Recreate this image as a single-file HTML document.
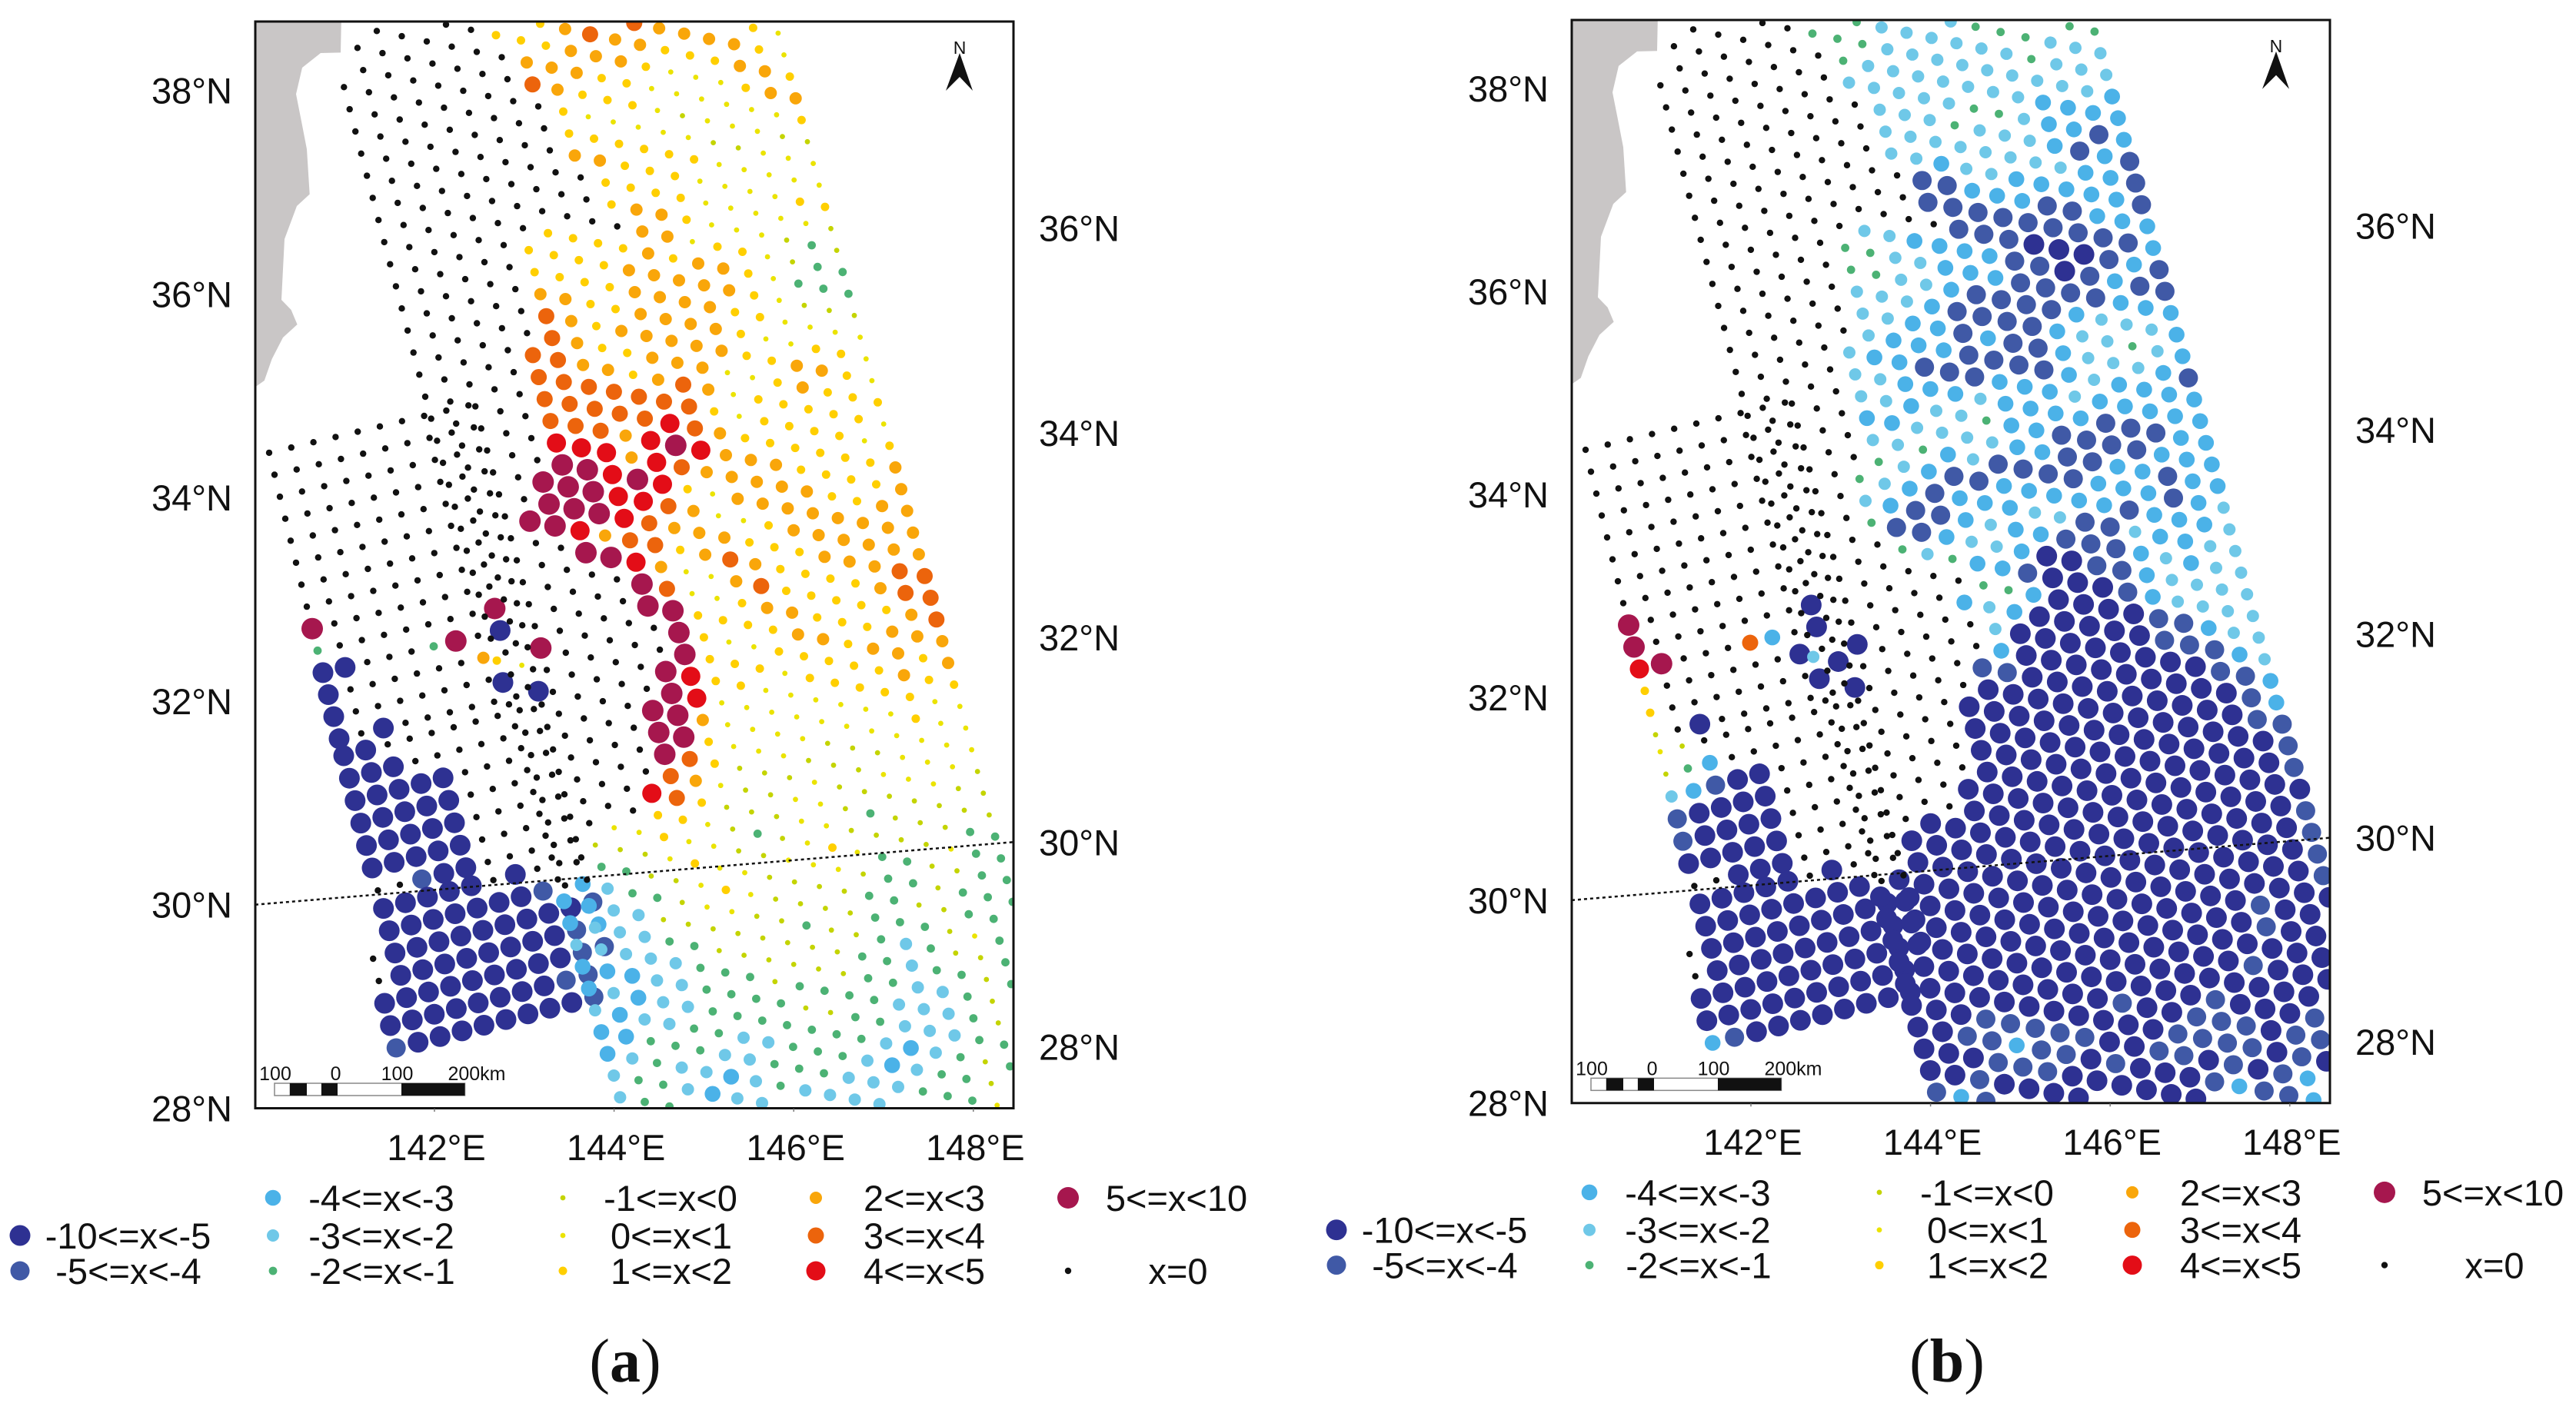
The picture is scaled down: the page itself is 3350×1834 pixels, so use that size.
<!DOCTYPE html>
<html lang="en">
<head>
<meta charset="utf-8">
<title>Slip distribution maps</title>
<style>
html,body{margin:0;padding:0;background:#fff;width:3350px;height:1834px;overflow:hidden}
svg{display:block}
text{font-family:"Liberation Sans",sans-serif;fill:#111}
.cap{font-family:"Liberation Serif",serif;font-size:80px;text-anchor:middle}
</style>
</head>
<body>
<svg id="figure" xmlns="http://www.w3.org/2000/svg" width="3350" height="1834" viewBox="0 0 3350 1834">
<defs><clipPath id="plot-clip"><rect x="332" y="28" width="986" height="1413.5"></rect></clipPath></defs>
<rect x="0" y="0" width="3350" height="1834" fill="#fff"></rect>
<text class="cap" x="813" y="1797">(<tspan font-weight="bold">a</tspan>)</text>
<text class="cap" x="2532" y="1797">(<tspan font-weight="bold">b</tspan>)</text>
</svg>
<script>
/* ---- tick labels ---- */
const latTicksLeft=[38,36,34,32,30,28];
const latTicksRight=[36,34,32,30,28];
const lonTicks=[142,144,146,148];
/* ---- legend ---- */
const legendLabels=["-10<=x<-5","-5<=x<-4","-4<=x<-3","-3<=x<-2","-2<=x<-1","-1<=x<0","0<=x<1","1<=x<2","2<=x<3","3<=x<4","4<=x<5","5<=x<10","x=0"];
const legendValues=[-7,-4.5,-3.5,-2.5,-1.5,-.5,.5,1.5,2.5,3.5,4.5,7,0];
/* ---- slip classes: lower bound of each bin ---- */
const classLower=[-10,-5,-4,-3,-2,-1,0,1,2,3,4,5];

/* ---- West swath, upper block: values per row (10 columns), panels a and b ---- */
const westValuesA=[
[0,0,0,0,0,0,0,0,0,0],[0,0,0,0,0,0,0,0,0,0],[0,0,0,0,0,0,0,0,0,0],[0,0,0,0,0,0,0,0,0,0],
[0,0,0,0,0,0,0,0,0,0],[0,0,0,0,0,0,0,0,0,0],[0,0,0,0,0,0,0,0,0,0],[0,0,0,0,0,0,0,0,0,0],
[7,0,0,0,0,0,0,0,0,0],
[-1.5,0,0,0,0,0,0,0,7,0],
[-7,-7,0,0,0,-1.5,7,0,-7,0],
[-7,0,0,0,0,0,0,2.5,0,0],
[-7,0,0,0,0,0,0,0,0,0],
[-7,0,-7,0,0,0,0,0,0,-7]];
const westValuesB=[
[0,0,0,0,0,0,0,0,0,0],[0,0,0,0,0,0,0,0,0,0],[0,0,0,0,0,0,0,0,0,0],[0,0,0,0,0,0,0,0,0,0],
[0,0,0,0,0,0,0,0,0,0],[0,0,0,0,0,0,0,0,0,0],[0,0,0,0,0,0,0,0,0,0],[0,0,0,0,0,0,0,0,0,0],
[7,0,0,0,0,0,0,0,0,0],
[7,0,0,0,0,0,0,0,-7,0],
[4.5,7,0,0,0,3.5,-3.5,0,-7,0],
[1.5,0,0,0,0,0,0,-7,0,0],
[1.5,0,0,0,0,0,0,0,0,0],
[-.5,0,-7,0,0,0,0,0,0,-7]];

/* ---- West swath, middle block ---- */
const midValuesA=[
[-7,-7,0,0,0,0,0,0,0,0],
[-7,-7,-7,0,0,0,0,0,0,0],
[-7,-7,-7,-7,-7,0,0,0,0,0],
[-7,-7,-7,-7,-7,0,0,0,0,0],
[-7,-7,-7,-7,-7,0,0,0,0,0],
[-7,-7,-7,-7,-7,0,0,0,0,0],
[0,0,-4.5,-7,-7,0,0,0,0,0]];
const midValuesB=[
[.5,-.5,0,0,0,0,0,0,0,0],
[-.5,-1.5,-3.5,0,0,0,0,0,0,0],
[-2.5,-3.5,-4.5,-7,-7,0,0,0,0,0],
[-4.5,-7,-7,-7,-7,0,0,0,0,0],
[-4.5,-7,-7,-7,-7,0,0,0,0,0],
[-7,-7,-7,-7,-7,0,0,0,0,0],
[0,0,-7,-7,-7,0,0,0,0,0]];

/* ---- South-west block: first column per row, then values ---- */
const southFirstCol=[1,1,0,0,0,0,0];
const southValuesA=[
[-7,-7,-7,-7,-7,0,-7,0,0,0],
[-7,-7,-7,-7,-7,-7,-7,-4.5,0,0],
[0,-7,-7,-7,-7,-7,-7,-7,-7,-7,-4.5],
[0,-7,-7,-7,-7,-7,-7,-7,-7,-4.5,-3.5],
[-7,-7,-7,-7,-7,-7,-7,-7,-7,-4.5,-4.5],
[-7,-7,-7,-7,-7,-7,-7,-7,-4.5,-4.5],
[-4.5,-7,-7,-7,-7,-7,-7,-7,-7,-4.5]];
const southValuesB=[
[-7,-7,-7,-7,-7,0,-7,0,0,0],
[-7,-7,-7,-7,-7,-7,-7,-7,0,0],
[0,-7,-7,-7,-7,-7,-7,-7,-7,-7,-7],
[0,-7,-7,-7,-7,-7,-7,-7,-7,-7,-7],
[-7,-7,-7,-7,-7,-7,-7,-7,-7,-7,-7],
[-7,-7,-7,-7,-7,-7,-7,-7,-7,-7],
[-3.5,-4.5,-7,-7,-7,-7,-7,-7,-7,-7]];

/* ---- Main swath: rows -7 .. 46, first visible column per row, then values ---- */
const mainFirstCol=[18,13,9,5,2,1,1,0,0,0,0,0,0,0,0,0,0,0,0,0,0,0,0,0,0,0,0,0,0,0,0,0,0,0,0,0,0,0,0,0,0,0,0,0,0,0,0,0,0,0,0,0,0,0];
const mainValuesA=[
[1.5,.5],
[3.5,2.5,2.5,2.5,2.5,1.5,.5],
[1.5,2.5,3.5,2.5,2.5,1.5,1.5,1.5,2.5,2.5,1.5],
[0,0,1.5,1.5,1.5,2.5,2.5,2.5,1.5,.5,.5,.5,1.5,2.5,2.5],
[0,0,0,0,0,0,2.5,2.5,2.5,1.5,1.5,.5,.5,.5,.5,.5,.5,1.5],
[0,0,0,0,0,0,0,3.5,2.5,1.5,1.5,1.5,.5,-.5,.5,.5,.5,-.5,-.5],
[0,0,0,0,0,0,0,0,1.5,.5,.5,.5,.5,.5,-.5,-.5,.5,.5,.5],
[0,0,0,0,0,0,0,0,0,1.5,1.5,1.5,1.5,1.5,1.5,.5,.5,.5,.5,.5],
[0,0,0,0,0,0,0,0,0,2.5,2.5,1.5,1.5,1.5,.5,.5,.5,.5,1.5,1.5],
[0,0,0,0,0,0,0,0,0,0,1.5,1.5,1.5,1.5,.5,.5,.5,.5,.5,-.5],
[0,0,0,0,0,0,0,0,0,0,1.5,2.5,2.5,1.5,.5,.5,.5,-.5,-1.5,-.5],
[0,0,0,0,0,0,0,0,0,0,0,2.5,2.5,.5,1.5,1.5,.5,-.5,-1.5,-1.5],
[0,0,0,0,0,0,0,1.5,1.5,1.5,1.5,2.5,1.5,2.5,2.5,1.5,.5,-1.5,-1.5,-1.5],
[0,0,0,0,0,0,1.5,1.5,1.5,1.5,2.5,2.5,2.5,2.5,2.5,1.5,.5,-.5,-.5,-.5],
[0,0,0,0,0,0,1.5,1.5,1.5,1.5,2.5,2.5,2.5,2.5,1.5,1.5,.5,.5,.5,.5],
[0,0,0,0,0,0,2.5,2.5,1.5,1.5,2.5,2.5,2.5,2.5,1.5,.5,.5,1.5,1.5,.5],
[0,0,0,0,0,0,3.5,2.5,1.5,2.5,2.5,2.5,2.5,2.5,1.5,1.5,2.5,2.5,1.5,.5],
[0,0,0,0,0,0,3.5,2.5,1.5,1.5,2.5,2.5,2.5,.5,.5,1.5,2.5,1.5,1.5,1.5],
[0,0,0,0,0,3.5,3.5,2.5,2.5,1.5,2.5,3.5,2.5,.5,1.5,1.5,1.5,1.5,1.5,.5],
[0,0,0,0,0,3.5,3.5,3.5,3.5,3.5,3.5,3.5,1.5,.5,1.5,1.5,1.5,1.5,.5,1.5],
[0,0,0,0,0,3.5,3.5,3.5,3.5,3.5,4.5,3.5,2.5,1.5,1.5,1.5,1.5,1.5,1.5,2.5],
[0,0,0,0,0,3.5,3.5,3.5,2.5,4.5,7,4.5,2.5,2.5,2.5,1.5,1.5,1.5,1.5,2.5],
[0,0,0,0,0,4.5,4.5,4.5,2.5,4.5,3.5,2.5,2.5,2.5,2.5,2.5,1.5,1.5,2.5,2.5],
[0,0,0,0,0,7,7,4.5,7,4.5,1.5,.5,2.5,2.5,2.5,2.5,2.5,2.5,2.5,2.5],
[0,0,0,0,7,7,7,4.5,4.5,3.5,2.5,.5,.5,1.5,2.5,2.5,2.5,2.5,2.5,2.5],
[0,0,0,0,7,7,7,4.5,3.5,2.5,2.5,2.5,1.5,1.5,1.5,2.5,2.5,2.5,3.5,3.5],
[0,0,0,7,7,4.5,2.5,3.5,3.5,1.5,2.5,3.5,2.5,1.5,1.5,1.5,1.5,2.5,3.5,3.5],
[0,0,0,0,0,7,7,4.5,2.5,.5,.5,2.5,3.5,1.5,1.5,1.5,1.5,1.5,2.5,3.5],
[0,0,0,0,0,0,0,7,3.5,.5,.5,1.5,2.5,2.5,1.5,1.5,1.5,2.5,2.5,2.5],
[0,0,0,0,0,0,0,7,7,1.5,1.5,1.5,1.5,2.5,2.5,1.5,2.5,2.5,1.5,2.5],
[0,0,0,0,0,0,0,0,7,1.5,.5,.5,1.5,1.5,1.5,1.5,1.5,2.5,1.5,1.5],
[0,0,0,0,0,0,0,0,7,1.5,1.5,1.5,.5,1.5,1.5,1.5,1.5,1.5,.5,.5],
[0,0,7,0,0,0,0,7,4.5,1.5,1.5,.5,.5,.5,.5,.5,.5,1.5,.5,.5],
[1.5,.5,0,0,0,0,0,7,4.5,.5,.5,.5,.5,.5,.5,.5,.5,.5,.5,.5],
[-7,0,0,0,0,0,7,7,2.5,.5,.5,.5,.5,-.5,-.5,-.5,.5,.5,.5,-.5],
[0,0,0,0,0,0,7,7,1.5,.5,.5,.5,-.5,-.5,-.5,.5,.5,.5,-.5,-.5],
[0,0,0,0,0,0,7,3.5,1.5,-.5,-.5,-.5,.5,-.5,-.5,-.5,-.5,-.5,-.5,-.5],
[0,0,0,0,0,0,3.5,2.5,.5,-.5,-.5,.5,.5,-.5,-1.5,-.5,-.5,-.5,-1.5,-1.5],
[0,0,0,0,0,4.5,3.5,1.5,-.5,-.5,-.5,.5,.5,-.5,-.5,-.5,-.5,.5,-1.5,-1.5],
[0,0,0,0,0,1.5,1.5,.5,-.5,-1.5,-.5,.5,1.5,.5,-1.5,-1.5,-.5,-.5,-1.5,-1.5],
[0,0,0,.5,.5,1.5,.5,.5,-.5,-.5,.5,.5,.5,-.5,-1.5,-1.5,-.5,-1.5,-1.5,-1.5],
[0,0,-.5,-.5,-.5,.5,1.5,.5,.5,-.5,-.5,-.5,-.5,-1.5,-1.5,-.5,-.5,-1.5,-1.5],
[0,0,-1.5,-1.5,-.5,-.5,.5,1.5,.5,-.5,-.5,-.5,-.5,-1.5,-1.5,-1.5,-.5,.5,-1.5],
[0,-3.5,-2.5,-1.5,-1.5,-.5,.5,.5,-.5,-.5,-1.5,-.5,-.5,-1.5,-2.5,-1.5,-.5,-.5,-1.5],
[-3.5,-3.5,-2.5,-2.5,-.5,-.5,-.5,-.5,-.5,-.5,-.5,-.5,-1.5,-1.5,-2.5,-1.5,-1.5,-.5,-1.5],
[-3.5,-2.5,-2.5,-2.5,-1.5,-1.5,-.5,-.5,-.5,-.5,-.5,-.5,-1.5,-1.5,-2.5,-2.5,-1.5,-.5],
[-2.5,-2.5,-2.5,-2.5,-2.5,-1.5,-1.5,-1.5,-.5,-1.5,-1.5,-1.5,-1.5,-2.5,-2.5,-2.5,-1.5,-.5],
[-3.5,-3.5,-3.5,-2.5,-2.5,-1.5,-1.5,-1.5,-1.5,-.5,-.5,-1.5,-1.5,-2.5,-2.5,-2.5,-1.5,-1.5],
[-3.5,-2.5,-3.5,-2.5,-2.5,-1.5,-1.5,-1.5,-1.5,-1.5,-1.5,-1.5,-2.5,-3.5,-2.5,-1.5,-.5,-1.5],
[-2.5,-3.5,-2.5,-2.5,-1.5,-1.5,-2.5,-2.5,-1.5,-1.5,-1.5,-2.5,-3.5,-2.5,-1.5,-1.5,-.5],
[-3.5,-3.5,-1.5,-1.5,-1.5,-2.5,-2.5,-1.5,-1.5,-1.5,-2.5,-2.5,-2.5,-1.5,-1.5,-1.5,.5],
[-3.5,-2.5,-1.5,-2.5,-2.5,-3.5,-2.5,-1.5,-2.5,-2.5,-2.5,-2.5],
[-2.5,-1.5,-1.5,-2.5,-3.5,-2.5,-2.5],
[-2.5,-1.5,-1.5]];
const mainValuesB=[
[-1.5,-1.5],
[-2.5,-1.5,-1.5,-1.5,-2.5,-2.5,-2.5],
[-1.5,-2.5,-2.5,-2.5,-2.5,-2.5,-2.5,-1.5,-2.5,-2.5,-2.5],
[0,0,-1.5,-1.5,-1.5,-2.5,-2.5,-2.5,-2.5,-2.5,-2.5,-2.5,-2.5,-2.5,-3.5],
[0,0,0,0,0,0,-1.5,-2.5,-2.5,-2.5,-2.5,-2.5,-2.5,-2.5,-3.5,-3.5,-3.5,-3.5],
[0,0,0,0,0,0,0,-2.5,-2.5,-2.5,-2.5,-2.5,-1.5,-1.5,-2.5,-3.5,-3.5,-4.5,-3.5],
[0,0,0,0,0,0,0,0,-2.5,-2.5,-2.5,-1.5,-2.5,-2.5,-2.5,-3.5,-4.5,-3.5,-4.5],
[0,0,0,0,0,0,0,0,0,-2.5,-2.5,-2.5,-2.5,-2.5,-2.5,-2.5,-2.5,-3.5,-3.5,-4.5],
[0,0,0,0,0,0,0,0,0,-2.5,-2.5,-3.5,-2.5,-2.5,-3.5,-3.5,-3.5,-3.5,-3.5,-4.5],
[0,0,0,0,0,0,0,0,0,0,-4.5,-4.5,-3.5,-3.5,-3.5,-4.5,-4.5,-3.5,-3.5,-3.5],
[0,0,0,0,0,0,0,0,0,0,-4.5,-4.5,-4.5,-4.5,-4.5,-4.5,-4.5,-4.5,-4.5,-3.5],
[0,0,0,0,0,0,0,0,0,0,0,-4.5,-4.5,-4.5,-7,-7,-7,-4.5,-3.5,-4.5],
[0,0,0,0,0,0,0,-2.5,-2.5,-3.5,-3.5,-3.5,-3.5,-4.5,-4.5,-7,-4.5,-3.5,-4.5,-4.5],
[0,0,0,0,0,0,-1.5,-1.5,-2.5,-2.5,-3.5,-3.5,-3.5,-4.5,-4.5,-4.5,-4.5,-3.5,-3.5,-3.5],
[0,0,0,0,0,0,-1.5,-1.5,-2.5,-2.5,-3.5,-4.5,-4.5,-4.5,-4.5,-3.5,-2.5,-2.5,-2.5,-3.5],
[0,0,0,0,0,0,-2.5,-2.5,-2.5,-3.5,-4.5,-4.5,-4.5,-4.5,-3.5,-2.5,-2.5,-1.5,-2.5,-3.5],
[0,0,0,0,0,0,-2.5,-2.5,-3.5,-3.5,-4.5,-3.5,-4.5,-4.5,-3.5,-2.5,-2.5,-2.5,-3.5,-4.5],
[0,0,0,0,0,0,-2.5,-3.5,-3.5,-3.5,-4.5,-4.5,-4.5,-4.5,-3.5,-2.5,-3.5,-3.5,-3.5,-3.5],
[0,0,0,0,0,-2.5,-3.5,-3.5,-4.5,-4.5,-4.5,-3.5,-3.5,-3.5,-2.5,-3.5,-3.5,-3.5,-3.5,-3.5],
[0,0,0,0,0,-2.5,-2.5,-3.5,-3.5,-3.5,-2.5,-3.5,-3.5,-3.5,-3.5,-4.5,-4.5,-4.5,-3.5,-3.5],
[0,0,0,0,0,-2.5,-2.5,-3.5,-2.5,-2.5,-1.5,-3.5,-3.5,-4.5,-4.5,-4.5,-4.5,-3.5,-3.5,-3.5],
[0,0,0,0,0,-3.5,-3.5,-2.5,-2.5,-2.5,-2.5,-3.5,-3.5,-4.5,-4.5,-3.5,-3.5,-4.5,-3.5,-3.5],
[0,0,0,0,0,-2.5,-2.5,-1.5,-3.5,-2.5,-4.5,-4.5,-4.5,-4.5,-3.5,-3.5,-3.5,-4.5,-3.5,-2.5],
[0,0,0,0,0,-1.5,-2.5,-3.5,-4.5,-4.5,-3.5,-3.5,-3.5,-3.5,-3.5,-4.5,-3.5,-3.5,-3.5,-2.5],
[0,0,0,0,-1.5,-2.5,-3.5,-4.5,-3.5,-3.5,-3.5,-2.5,-2.5,-4.5,-4.5,-2.5,-3.5,-3.5,-2.5,-2.5],
[0,0,0,0,-2.5,-3.5,-4.5,-4.5,-3.5,-2.5,-3.5,-3.5,-4.5,-4.5,-4.5,-3.5,-2.5,-3.5,-2.5,-2.5],
[0,0,0,0,-1.5,-4.5,-4.5,-3.5,-2.5,-2.5,-3.5,-7,-7,-4.5,-4.5,-3.5,-2.5,-2.5,-2.5,-2.5],
[0,0,0,0,0,-1.5,-2.5,-1.5,-3.5,-3.5,-4.5,-7,-7,-7,-4.5,-3.5,-2.5,-2.5,-2.5,-2.5],
[0,0,0,0,0,0,0,0,-1.5,-1.5,-3.5,-7,-7,-7,-7,-4.5,-4.5,-3.5,-2.5,-2.5],
[0,0,0,0,0,0,0,-3.5,-2.5,-3.5,-7,-7,-7,-7,-7,-4.5,-4.5,-4.5,-3.5,-2.5],
[0,0,0,0,0,0,0,0,-2.5,-7,-7,-7,-7,-7,-7,-7,-7,-4.5,-4.5,-3.5],
[0,0,0,0,0,0,0,0,-3.5,-7,-7,-7,-7,-7,-7,-7,-7,-7,-4.5,-3.5],
[0,0,-7,0,0,0,0,-4.5,-4.5,-7,-7,-7,-7,-7,-7,-7,-7,-7,-4.5,-4.5],
[-2.5,-7,0,0,0,0,0,-7,-7,-7,-7,-7,-7,-7,-7,-7,-7,-7,-7,-4.5],
[-7,0,0,0,0,0,-7,-7,-7,-7,-7,-7,-7,-7,-7,-7,-7,-7,-7,-4.5],
[0,0,0,0,0,0,-7,-7,-7,-7,-7,-7,-7,-7,-7,-7,-7,-7,-7,-7],
[0,0,0,0,0,0,-7,-7,-7,-7,-7,-7,-7,-7,-7,-7,-7,-7,-7,-4.5],
[0,0,0,0,0,0,-7,-7,-7,-7,-7,-7,-7,-7,-7,-7,-7,-7,-7,-4.5],
[0,0,0,0,0,-7,-7,-7,-7,-7,-7,-7,-7,-7,-7,-7,-7,-7,-7,-4.5],
[0,0,0,0,0,-7,-7,-7,-7,-7,-7,-7,-7,-7,-7,-7,-7,-7,-7,-4.5],
[0,0,0,-7,-7,-7,-7,-7,-7,-7,-7,-7,-7,-7,-7,-7,-7,-7,-7,-7],
[0,0,-7,-7,-7,-7,-7,-7,-7,-7,-7,-7,-7,-7,-7,-7,-4.5,-7,-7],
[0,0,-7,-7,-7,-7,-7,-7,-7,-7,-7,-7,-7,-7,-7,-7,-4.5,-7,-7],
[0,-7,-7,-7,-7,-7,-7,-7,-7,-7,-7,-7,-7,-7,-7,-7,-7,-7,-7],
[-7,-7,-7,-7,-7,-7,-7,-7,-7,-7,-7,-7,-7,-7,-7,-4.5,-7,-7,-7],
[-7,-7,-7,-7,-7,-7,-7,-7,-7,-7,-7,-7,-7,-7,-7,-7,-7,-7],
[-7,-7,-7,-7,-7,-7,-7,-7,-7,-7,-7,-7,-7,-4.5,-7,-7,-7,-4.5],
[-7,-7,-7,-7,-7,-7,-7,-7,-7,-4.5,-7,-7,-4.5,-4.5,-4.5,-7,-4.5,-4.5],
[-7,-7,-7,-7,-7,-7,-7,-7,-7,-7,-7,-4.5,-4.5,-4.5,-4.5,-7,-4.5,-7],
[-7,-7,-7,-4.5,-4.5,-4.5,-4.5,-4.5,-7,-7,-4.5,-4.5,-7,-4.5,-7,-4.5,-3.5],
[-7,-7,-4.5,-4.5,-3.5,-4.5,-4.5,-7,-4.5,-7,-7,-7,-4.5,-3.5,-4.5,-4.5,-3.5],
[-7,-7,-7,-4.5,-4.5,-4.5,-7,-7,-7,-7,-7,-7],
[-7,-7,-4.5,-7,-7,-7,-7],
[-4.5,-3.5,-4.5]];

/* ---- styles per class ---- */
const classColors=["#2e3192","#4059a6","#4bb2e8","#6fc8e8","#4cb274","#c4d400","#ebe300","#ffcf00","#f9a60a","#ec640c","#e30d17","#a6174e"];
const classRadii=[13.5,12.5,10.3,8,5.4,3.4,3.4,5.5,8,10.5,12.5,14];
const zeroColor="#111";
const zeroRadius=4.2;

/* ---- map axes (panel-a frame; panel b reuses them through a group transform) ---- */
const kx=116.8, ky=132.4, tilt=0.0826;
function xScale(lon){return 565+(lon-142)*kx;}
function yScale(lon,lat){return 1441.5-(lat-28)*ky-(xScale(lon)-332)*tilt;}

/* ---- fault-grid geometry: row/column index to lon/lat ---- */
const westGrid={lon:140.159,lat:34.428,rowLon:.05993,rowLat:-.22038,colLon:.24658,colLat:.03377};
const midGrid={lon:140.990,lat:31.391,rowLon:.06336,rowLat:-.22516,colLon:.24486,colLat:.03805};
const southGrid={lon:141.188,lat:29.821,rowLon:.06421,rowLat:-.22372,colLon:.24461,colLat:.03784};
function gridPoint(g,r,c){return [g.lon+r*g.rowLon+c*g.colLon,g.lat+r*g.rowLat+c*g.colLat];}
function mainPoint(k,i){
  const wLon=140.992+.0637*k+.0000685*k*k, wLat=37.960-.22255*k+.0000418*k*k;
  const eLon=146.283+.0653*k, eLat=36.611-.2181*k, t=i/19;
  return [wLon+(eLon-wLon)*t,wLat+(eLat-wLat)*t];
}

const NS="http://www.w3.org/2000/svg";
const figure=document.getElementById('figure');
function classIndex(v){let c=0;for(let j=0;j<classLower.length;j++){if(v>=classLower[j])c=j;}return c;}
function styleOf(v){return v===0?[zeroColor,zeroRadius]:[classColors[classIndex(v)],classRadii[classIndex(v)]];}
function addPoint(layers,p,v){
  const el=document.createElementNS(NS,'circle');
  
  
  const s=styleOf(v);
  el.setAttribute('cx',xScale(p[0]).toFixed(1));
  el.setAttribute('cy',yScale(p[0],p[1]).toFixed(1));
  el.setAttribute('r',s[1]);
  el.setAttribute('fill',s[0]);
  (v===0?layers.zero:layers.slip).appendChild(el);
}
function addText(parent,x,y,str,size,anchor){
  const el=document.createElementNS(NS,'text');
  
  
  el.setAttribute('x',x);
  el.setAttribute('y',y);
  el.setAttribute('font-size',size);
  el.setAttribute('text-anchor',anchor);
  el.textContent=str;
  parent.appendChild(el);
}
function addRect(parent,x,y,w,h,fill,stroke,sw){
  const el=document.createElementNS(NS,'rect');
  
  
  el.setAttribute('x',x);el.setAttribute('y',y);el.setAttribute('width',w);el.setAttribute('height',h);
  el.setAttribute('fill',fill);
  if(stroke){el.setAttribute('stroke',stroke);el.setAttribute('stroke-width',sw);}
  parent.appendChild(el);
}
const landOutline="333,29 443.8,29 443,68.4 417,69 393,88 385,122.4 393,163 399,194 402.7,252.6 386,268 370,311 366,390 378.6,403 386.6,422 368,439 353.6,467 343.8,495 333,502.6";
const legendCols=[26,26,355,355,355,732,732,732,1061,1061,1061,1389,1389];
const legendTextCols=[166.5,167,496,496,497,872,873,873,1202,1202,1202,1530,1532];
const legendRows=[1607,1653,1558,1607,1653,1558,1607,1653,1558,1607,1653,1558,1653];
const rightLatBase=1361.5, rightLatStep=133.1;

function drawPanel(transform,wa,ma,sa,mainV){
  const g=document.createElementNS(NS,'g');
  
  
  if(transform)g.setAttribute('transform',transform);
  figure.appendChild(g);

  const map=document.createElementNS(NS,'g');
  
  
  map.setAttribute('clip-path','url(#plot-clip)');
  g.appendChild(map);

  const land=document.createElementNS(NS,'polygon');
  
  
  land.setAttribute('points',landOutline);
  land.setAttribute('fill','#c9c6c6');
  map.appendChild(land);

  const slipLayer=document.createElementNS(NS,'g');
  
  
  map.appendChild(slipLayer);
  const zeroLayer=document.createElementNS(NS,'g');
  
  
  map.appendChild(zeroLayer);
  const layers={slip:slipLayer,zero:zeroLayer};

  wa.forEach((row,r)=>row.forEach((v,c)=>addPoint(layers,gridPoint(westGrid,r,c),v)));
  ma.forEach((row,r)=>row.forEach((v,c)=>addPoint(layers,gridPoint(midGrid,r,c),v)));
  sa.forEach((row,r)=>row.forEach((v,c)=>addPoint(layers,gridPoint(southGrid,r,c+southFirstCol[r]),v)));
  mainV.forEach((row,r)=>row.forEach((v,c)=>addPoint(layers,mainPoint(r-7,c+mainFirstCol[r]),v)));

  const parallel=document.createElementNS(NS,'line');
  
  
  const lonL=142+(332-565)/kx, lonR=142+(1318-565)/kx;
  parallel.setAttribute('x1',xScale(lonL));parallel.setAttribute('y1',yScale(lonL,30));
  parallel.setAttribute('x2',xScale(lonR));parallel.setAttribute('y2',yScale(lonR,30));
  parallel.setAttribute('stroke','#111');parallel.setAttribute('stroke-width','2.5');
  parallel.setAttribute('stroke-dasharray','4 4');
  map.appendChild(parallel);

  addRect(g,332,28,986,1413.5,'none','#111',3);

  /* north arrow */
  const arrow=document.createElementNS(NS,'polygon');
  
  
  arrow.setAttribute('points','1248,69 1265,118 1248,100 1230,118');
  arrow.setAttribute('fill','#111');
  g.appendChild(arrow);
  addText(g,1248,70,'N',23,'middle');

  /* scale bar */
  addRect(g,357,1409,247.5,16,'#fff','#888',1.5);
  addRect(g,376.8,1409,22.2,16,'#111');
  addRect(g,417.9,1409,21.1,16,'#111');
  addRect(g,522,1409,82.5,16,'#111');
  addText(g,358,1405,'100',25,'middle');
  addText(g,436.6,1405,'0',25,'middle');
  addText(g,516.5,1405,'100',25,'middle');
  addText(g,620,1405,'200km',25,'middle');

  /* axis labels */
  latTicksLeft.forEach(v=>{addText(g,302,1441.5-(v-28)*ky+17,v+'°N',47,'end');});
  latTicksRight.forEach(v=>{addText(g,1351,rightLatBase-(v-28)*rightLatStep+17,v+'°N',47,'start');});
  lonTicks.forEach(v=>{
    addText(g,xScale(v)+2.5,1509,v+'°E',47,'middle');
    const t=document.createElementNS(NS,'line');
    
    
    t.setAttribute('x1',xScale(v));t.setAttribute('x2',xScale(v));
    t.setAttribute('y1',1442);t.setAttribute('y2',1446);
    t.setAttribute('stroke','#777');t.setAttribute('stroke-width','1.5');
    g.appendChild(t);
  });

  /* legend */
  legendLabels.forEach((label,j)=>{
    const s=styleOf(legendValues[j]);
    const m=document.createElementNS(NS,'circle');
    
    
    m.setAttribute('cx',legendCols[j]);
    m.setAttribute('cy',legendRows[j]);
    m.setAttribute('r',s[1]);
    m.setAttribute('fill',s[0]);
    g.appendChild(m);
    addText(g,legendTextCols[j],legendRows[j]+17,label,47,'middle');
  });
}
drawPanel('',westValuesA,midValuesA,southValuesA,mainValuesA);
drawPanel('translate(1712,-1.9) scale(1,0.99665)',westValuesB,midValuesB,southValuesB,mainValuesB);
</script>
</body>
</html>
